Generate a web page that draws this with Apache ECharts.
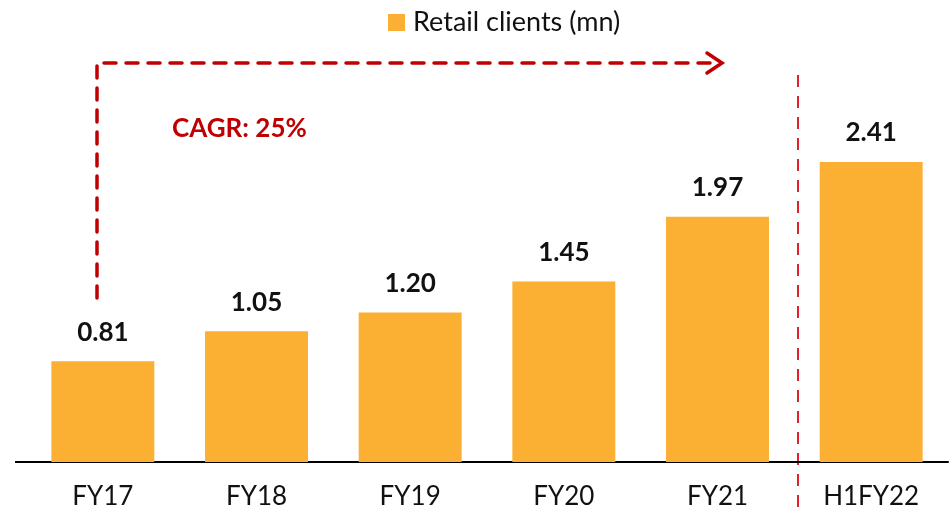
<!DOCTYPE html>
<html>
<head>
<meta charset="utf-8">
<script src="https://cdn.jsdelivr.net/npm/echarts@6/dist/echarts.min.js"></script>
<style>
  html, body { margin: 0; padding: 0; background: #fff; }
  #main { width: 950px; height: 514px; }
</style>
</head>
<body>
<div id="main"></div>
<script>
var categories = ['FY17', 'FY18', 'FY19', 'FY20', 'FY21', 'H1FY22'];
var retailClients = [0.81, 1.05, 1.20, 1.45, 1.97, 2.41];
var seriesName = 'Retail clients (mn)';
var cagrText = 'CAGR: 25%';

var font = 'Lato, "Open Sans", sans-serif';
var red = '#C00000';

var chart = echarts.init(document.getElementById('main'));

chart.setOption({
    animation: false,
    legend: {
        top: 4,
        left: 383,
        itemWidth: 17,
        itemHeight: 17,
        itemGap: 8,
        icon: 'rect',
        textStyle: { fontFamily: font, fontSize: 27, color: '#111', padding: [0, 0, 0, 3] },
        data: [seriesName]
    },
    grid: { left: 26, right: 2, top: 88.5, bottom: 52 },
    xAxis: {
        type: 'category',
        data: categories,
        axisLine: { lineStyle: { color: '#000', width: 2 } },
        axisTick: { show: false },
        axisLabel: { fontFamily: font, fontSize: 26, color: '#111', margin: 22 }
    },
    yAxis: {
        type: 'value',
        min: 0,
        max: 3,
        show: false,
        splitLine: { show: false }
    },
    series: [{
        name: seriesName,
        type: 'bar',
        data: retailClients,
        barCategoryGap: '33%',
        itemStyle: { color: '#FBB034' },
        label: {
            show: true,
            position: 'top',
            distance: 16,
            formatter: function (p) { return p.value.toFixed(2); },
            fontFamily: font,
            fontWeight: 'bold',
            fontSize: 26,
            color: '#111'
        }
    }],
    graphic: [
        {
            type: 'line',
            shape: { x1: 15, y1: 462, x2: 27, y2: 462 },
            style: { stroke: '#000', lineWidth: 2 }
        },
        {
            type: 'polyline',
            shape: { points: [[97, 298], [97, 63], [718, 63]] },
            style: { stroke: red, lineWidth: 3.5, lineDash: [12, 10], fill: null, lineCap: 'round' }
        },
        {
            type: 'polyline',
            shape: { points: [[707, 53], [722, 63], [707, 73]] },
            style: { stroke: red, lineWidth: 3.5, fill: null, lineCap: 'round', lineJoin: 'miter' }
        },
        {
            type: 'line',
            shape: { x1: 798, y1: 75, x2: 798, y2: 514 },
            style: { stroke: '#E0202A', lineWidth: 2, lineDash: [12, 9] }
        },
        {
            type: 'text',
            left: 172,
            top: 116,
            style: {
                text: cagrText,
                fill: red,
                font: 'bold 26px ' + font
            }
        }
    ]
});
</script>
</body>
</html>
